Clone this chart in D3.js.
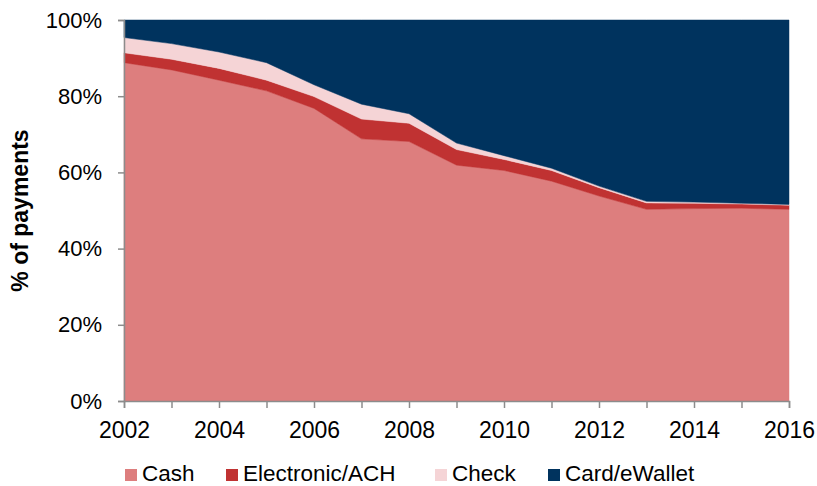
<!DOCTYPE html>
<html>
<head>
<meta charset="utf-8">
<script src="https://cdn.jsdelivr.net/npm/d3@7"></script>
<style>
  html, body { margin: 0; padding: 0; background: #fff; }
  svg { display: block; font-family: "Liberation Sans", Arial, sans-serif; }
</style>
</head>
<body>
<svg id="chart" width="817" height="486"></svg>
<script>
// Share of payments by method, 2002–2016 (percent)
const years = [2002, 2003, 2004, 2005, 2006, 2007, 2008, 2009, 2010, 2011, 2012, 2013, 2014, 2015, 2016];
const cash = [88.8, 86.9, 84.2, 81.4, 76.8, 68.8, 68.1, 61.9, 60.5, 57.7, 53.8, 50.3, 50.5, 50.6, 50.3];
const electronicACH = [2.6, 2.8, 3.1, 2.8, 3.1, 5.2, 4.8, 4.1, 2.9, 2.8, 2.2, 1.7, 1.4, 1.1, 1.1];
const check = [4.0, 4.1, 4.3, 4.6, 3.1, 3.9, 2.5, 1.7, 1.0, 0.6, 0.4, 0.4, 0.3, 0.2, 0.2];
const cardEWallet = years.map((_, i) => +(100 - cash[i] - electronicACH[i] - check[i]).toFixed(1));

const seriesNames = ["Cash", "Electronic/ACH", "Check", "Card/eWallet"];
const seriesColors = ["#dd7e7e", "#c03232", "#f5d4d6", "#00335e"];
const yTicks = [0, 20, 40, 60, 80, 100];
const xTickLabels = [2002, 2004, 2006, 2008, 2010, 2012, 2014, 2016];

const rows = years.map((y, i) => ({
  year: y,
  "Cash": cash[i],
  "Electronic/ACH": electronicACH[i],
  "Check": check[i],
  "Card/eWallet": cardEWallet[i]
}));

const svg = d3.select("#chart");
const margin = { left: 124, right: 28, top: 20, bottom: 85 };
const W = 817, H = 486;
const axisColor = "#8c8c8c";
const fontFamily = "Liberation Sans, Arial, sans-serif";

const x = d3.scaleLinear().domain([2002, 2016]).range([margin.left, W - margin.right]);
const y = d3.scaleLinear().domain([0, 100]).range([H - margin.bottom, margin.top]);

const layers = d3.stack().keys(seriesNames)(rows);

const area = d3.area()
  .x(d => x(d.data.year))
  .y0(d => y(d[0]))
  .y1(d => y(d[1]));

svg.append("g")
  .selectAll("path")
  .data(layers)
  .join("path")
  .attr("d", area)
  .attr("fill", (d, i) => seriesColors[i])
  .attr("stroke", (d, i) => seriesColors[i])
  .attr("stroke-width", 0.5);

// Y axis
const yAxis = svg.append("g")
  .attr("transform", `translate(${margin.left},0)`)
  .call(d3.axisLeft(y).tickValues(yTicks).tickFormat(d => d + "%").tickSizeOuter(0).tickSize(6).tickPadding(16));
yAxis.select(".domain").attr("stroke", axisColor).attr("stroke-width", 1.5);
yAxis.selectAll(".tick line").attr("stroke", axisColor).attr("stroke-width", 1.5);
yAxis.selectAll(".tick text").attr("font-size", 22).attr("fill", "#000").attr("font-family", fontFamily);

// X axis: a tick every year, labels every other year
const xAxis = svg.append("g")
  .attr("transform", `translate(0,${H - margin.bottom})`)
  .call(d3.axisBottom(x).tickValues(years).tickFormat(d => xTickLabels.includes(d) ? String(d) : "").tickSizeOuter(0).tickSize(7).tickPadding(14));
xAxis.select(".domain").attr("stroke", axisColor).attr("stroke-width", 1.5);
xAxis.selectAll(".tick line").attr("stroke", axisColor).attr("stroke-width", 1.5);
xAxis.selectAll(".tick text").attr("font-size", 23).attr("fill", "#000").attr("font-family", fontFamily);

// Y axis title
svg.append("text")
  .attr("transform", `translate(28,${(margin.top + H - margin.bottom) / 2}) rotate(-90)`)
  .attr("text-anchor", "middle")
  .attr("font-size", 23)
  .attr("font-weight", "bold")
  .attr("font-family", fontFamily)
  .text("% of payments");

// Legend
const legendX = [125, 226, 435, 548];
const legend = svg.append("g");
seriesNames.forEach((name, i) => {
  legend.append("rect")
    .attr("x", legendX[i]).attr("y", 469)
    .attr("width", 12).attr("height", 12)
    .attr("fill", seriesColors[i]);
  legend.append("text")
    .attr("x", legendX[i] + 17).attr("y", 481)
    .attr("font-size", 22.5)
    .attr("font-family", fontFamily)
    .text(name);
});
</script>
</body>
</html>
